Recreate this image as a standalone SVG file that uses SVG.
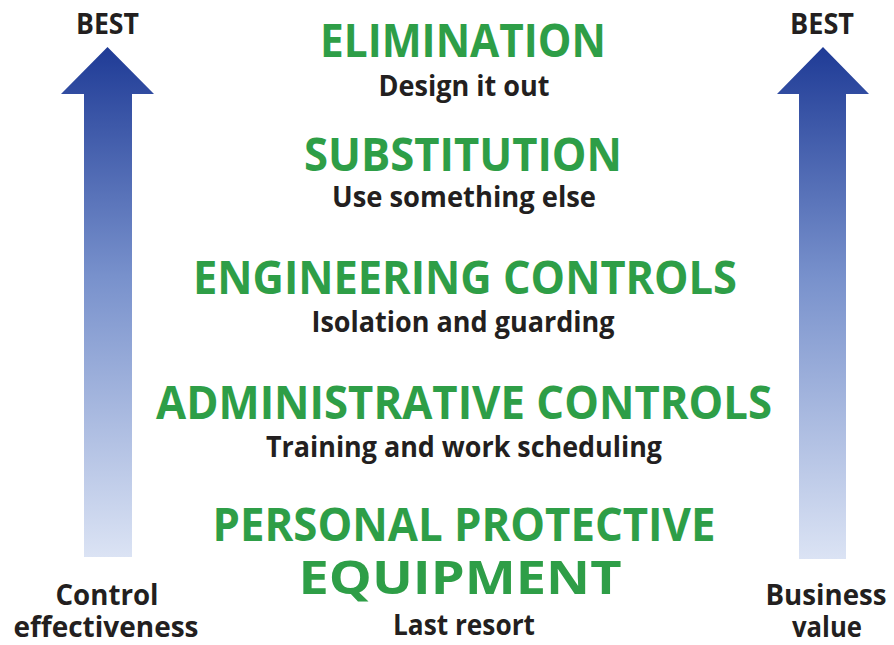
<svg xmlns="http://www.w3.org/2000/svg" width="894" height="645" viewBox="0 0 894 645">
  <defs>
    <linearGradient id="arrowGrad" x1="0" y1="0" x2="0" y2="1">
      <stop offset="0" stop-color="#1f3b96"/>
      <stop offset="0.45" stop-color="#7891cc"/>
      <stop offset="1" stop-color="#dbe3f4"/>
    </linearGradient>
    <style>
      .h { font-family: "Open Sans", "Noto Sans", "Liberation Sans", sans-serif; font-weight: bold; fill: #2e9e47; font-size: 47px; text-anchor: middle; }
      .s { font-family: "Open Sans", "Noto Sans", "Liberation Sans", sans-serif; font-weight: bold; fill: #231f20; font-size: 28px; text-anchor: middle; }
      .arrow { fill: url(#arrowGrad); }
    </style>
  </defs>
  <rect width="894" height="645" fill="#ffffff"/>

  <g id="left-arrow">
    <path class="arrow" d="M107.5,47 L154,94 L132,94 L132,557 L84,557 L84,94 L61,94 Z"/>
    <text class="s" x="107.5" y="34" textLength="63" lengthAdjust="spacingAndGlyphs">BEST</text>
    <text class="s" x="107" y="605" textLength="103" lengthAdjust="spacingAndGlyphs">Control</text>
    <text class="s" x="106" y="637" textLength="185" lengthAdjust="spacingAndGlyphs">effectiveness</text>
  </g>

  <g id="right-arrow">
    <path class="arrow" d="M823,47 L869,94 L846,94 L846,559 L799,559 L799,94 L777,94 Z"/>
    <text class="s" x="822" y="34" textLength="64" lengthAdjust="spacingAndGlyphs">BEST</text>
    <text class="s" x="826" y="605" textLength="121" lengthAdjust="spacingAndGlyphs">Business</text>
    <text class="s" x="827" y="637" textLength="70" lengthAdjust="spacingAndGlyphs">value</text>
  </g>

  <g id="elimination">
    <text class="h" x="463" y="57" textLength="286" lengthAdjust="spacingAndGlyphs">ELIMINATION</text>
    <text class="s" x="464" y="96" textLength="171" lengthAdjust="spacingAndGlyphs">Design it out</text>
  </g>

  <g id="substitution">
    <text class="h" x="463" y="171" textLength="318" lengthAdjust="spacingAndGlyphs">SUBSTITUTION</text>
    <text class="s" x="464" y="207" textLength="264" lengthAdjust="spacingAndGlyphs">Use something else</text>
  </g>

  <g id="engineering-controls">
    <text class="h" x="465" y="294" textLength="544" lengthAdjust="spacingAndGlyphs">ENGINEERING CONTROLS</text>
    <text class="s" x="463" y="332" textLength="303" lengthAdjust="spacingAndGlyphs">Isolation and guarding</text>
  </g>

  <g id="administrative-controls">
    <text class="h" x="464" y="419" textLength="616" lengthAdjust="spacingAndGlyphs">ADMINISTRATIVE CONTROLS</text>
    <text class="s" x="464" y="457" textLength="396" lengthAdjust="spacingAndGlyphs">Training and work scheduling</text>
  </g>

  <g id="ppe">
    <text class="h" x="464" y="541" textLength="503" lengthAdjust="spacingAndGlyphs">PERSONAL PROTECTIVE</text>
    <text class="h" x="460" y="594" textLength="323" lengthAdjust="spacingAndGlyphs">EQUIPMENT</text>
    <text class="s" x="464" y="635" textLength="142" lengthAdjust="spacingAndGlyphs">Last resort</text>
  </g>
</svg>
